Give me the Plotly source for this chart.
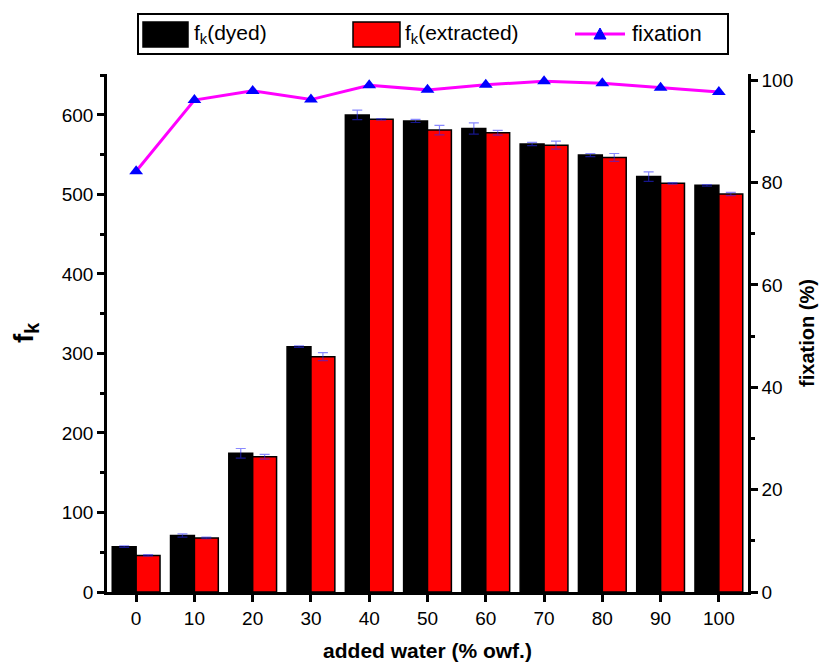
import plotly.graph_objects as go

water = [0, 10, 20, 30, 40, 50, 60, 70, 80, 90, 100]
fk_dyed = [57, 71, 174.5, 308.5, 600, 592.5, 583, 563.5, 549.5, 522.5, 511.5]
fk_dyed_err = [1, 2, 6, 1, 6, 2, 7, 2, 2, 6, 1]
fk_extracted = [46, 68, 170, 296, 594.5, 581, 577.5, 562, 546.5, 514, 500.5]
fk_extracted_err = [1, 1, 3, 5, 1, 6, 3, 5, 5, 1, 2]
fixation = [82.2, 96.1, 97.9, 96.2, 99.0, 98.1, 99.1, 99.8, 99.4, 98.5, 97.7]

FONT = "Liberation Sans, Arial, sans-serif"
err_col = "rgba(40,40,255,0.55)"

fig = go.Figure()
fig.add_trace(go.Bar(
    x=water, y=fk_dyed, name="f<sub>k</sub>(dyed)",
    marker=dict(color="black", line=dict(color="black", width=1.5)),
    error_y=dict(type="data", array=fk_dyed_err, color=err_col, thickness=1.2, width=5),
))
fig.add_trace(go.Bar(
    x=water, y=fk_extracted, name="f<sub>k</sub>(extracted)",
    marker=dict(color="#ff0000", line=dict(color="black", width=1.5)),
    error_y=dict(type="data", array=fk_extracted_err, color=err_col, thickness=1.2, width=5),
))
fig.add_trace(go.Scatter(
    x=water, y=fixation, name="fixation", yaxis="y2", mode="lines+markers",
    line=dict(color="#ff00ff", width=3),
    marker=dict(symbol="triangle-up", size=12, color="#0000ff"),
))

axis_common = dict(
    showline=True, linecolor="black", linewidth=2.5,
    ticks="outside", ticklen=7, tickwidth=2.5, tickcolor="black",
    showgrid=False, zeroline=False, automargin=False,
    tickfont=dict(family=FONT, size=19, color="black"),
)

# page body has an 8px margin, so the figure is 8px smaller and margins shifted
# plot area on screen: x 107..748, y 74..592
def px_x(p):
    return (p - 107) / 641.0

def px_y(p):
    return (592 - p) / 518.0

shapes = [
    dict(type="rect", xref="paper", yref="paper",
         x0=px_x(138), x1=px_x(728), y0=px_y(54), y1=px_y(14),
         line=dict(color="black", width=2), fillcolor="white"),
    dict(type="rect", xref="paper", yref="paper",
         x0=px_x(143), x1=px_x(188), y0=px_y(47), y1=px_y(22),
         line=dict(color="black", width=1.5), fillcolor="black"),
    dict(type="rect", xref="paper", yref="paper",
         x0=px_x(353), x1=px_x(400), y0=px_y(47), y1=px_y(22),
         line=dict(color="black", width=1.5), fillcolor="#ff0000"),
    dict(type="line", xref="paper", yref="paper",
         x0=px_x(575), x1=px_x(625), y0=px_y(34), y1=px_y(34),
         line=dict(color="#ff00ff", width=3)),
    dict(type="path", xref="paper", yref="paper",
         path="M {a},{b} L {c},{b} L {d},{e} Z".format(
             a=px_x(594), c=px_x(606), b=px_y(39), d=px_x(600), e=px_y(28)),
         line=dict(color="#0000ff", width=1), fillcolor="#0000ff"),
]
annotations = [
    dict(xref="paper", yref="paper", x=px_x(192), y=px_y(34), xanchor="left", yanchor="middle",
         text="f<sub>k</sub>(dyed)", showarrow=False, font=dict(family=FONT, size=21, color="black")),
    dict(xref="paper", yref="paper", x=px_x(403), y=px_y(34), xanchor="left", yanchor="middle",
         text="f<sub>k</sub>(extracted)", showarrow=False, font=dict(family=FONT, size=21, color="black")),
    dict(xref="paper", yref="paper", x=px_x(630), y=px_y(34), xanchor="left", yanchor="middle",
         text="fixation", showarrow=False, font=dict(family=FONT, size=22, color="black")),
]

fig.update_layout(
    width=819, height=654,
    margin=dict(l=99, r=79, t=66, b=70),
    plot_bgcolor="white", paper_bgcolor="white",
    barmode="group", bargap=0.18, bargroupgap=0,
    font=dict(family=FONT, color="black"),
    showlegend=False,
    shapes=shapes,
    annotations=annotations,
    xaxis=dict(
        **axis_common,
        range=[-5, 105], tickvals=water, ticktext=[str(w) for w in water],
        title=dict(text="<b>added water (% owf.)</b>", font=dict(family=FONT, size=21), standoff=16),
    ),
    yaxis=dict(
        **axis_common,
        range=[0, 651.5], dtick=100,
        minor=dict(ticks="outside", ticklen=4, tickwidth=2.5, tickcolor="black", dtick=50),
        title=dict(text="<b>f<sub>k</sub></b>", font=dict(family=FONT, size=28), standoff=24),
    ),
    yaxis2=dict(
        **axis_common,
        overlaying="y", side="right", anchor="x",
        range=[0, 101.2], dtick=20,
        minor=dict(ticks="outside", ticklen=4, tickwidth=2.5, tickcolor="black", dtick=10),
        title=dict(text="<b>fixation (%)</b>", font=dict(family=FONT, size=20), standoff=8),
    ),
)

fig.write_html("out.html")
